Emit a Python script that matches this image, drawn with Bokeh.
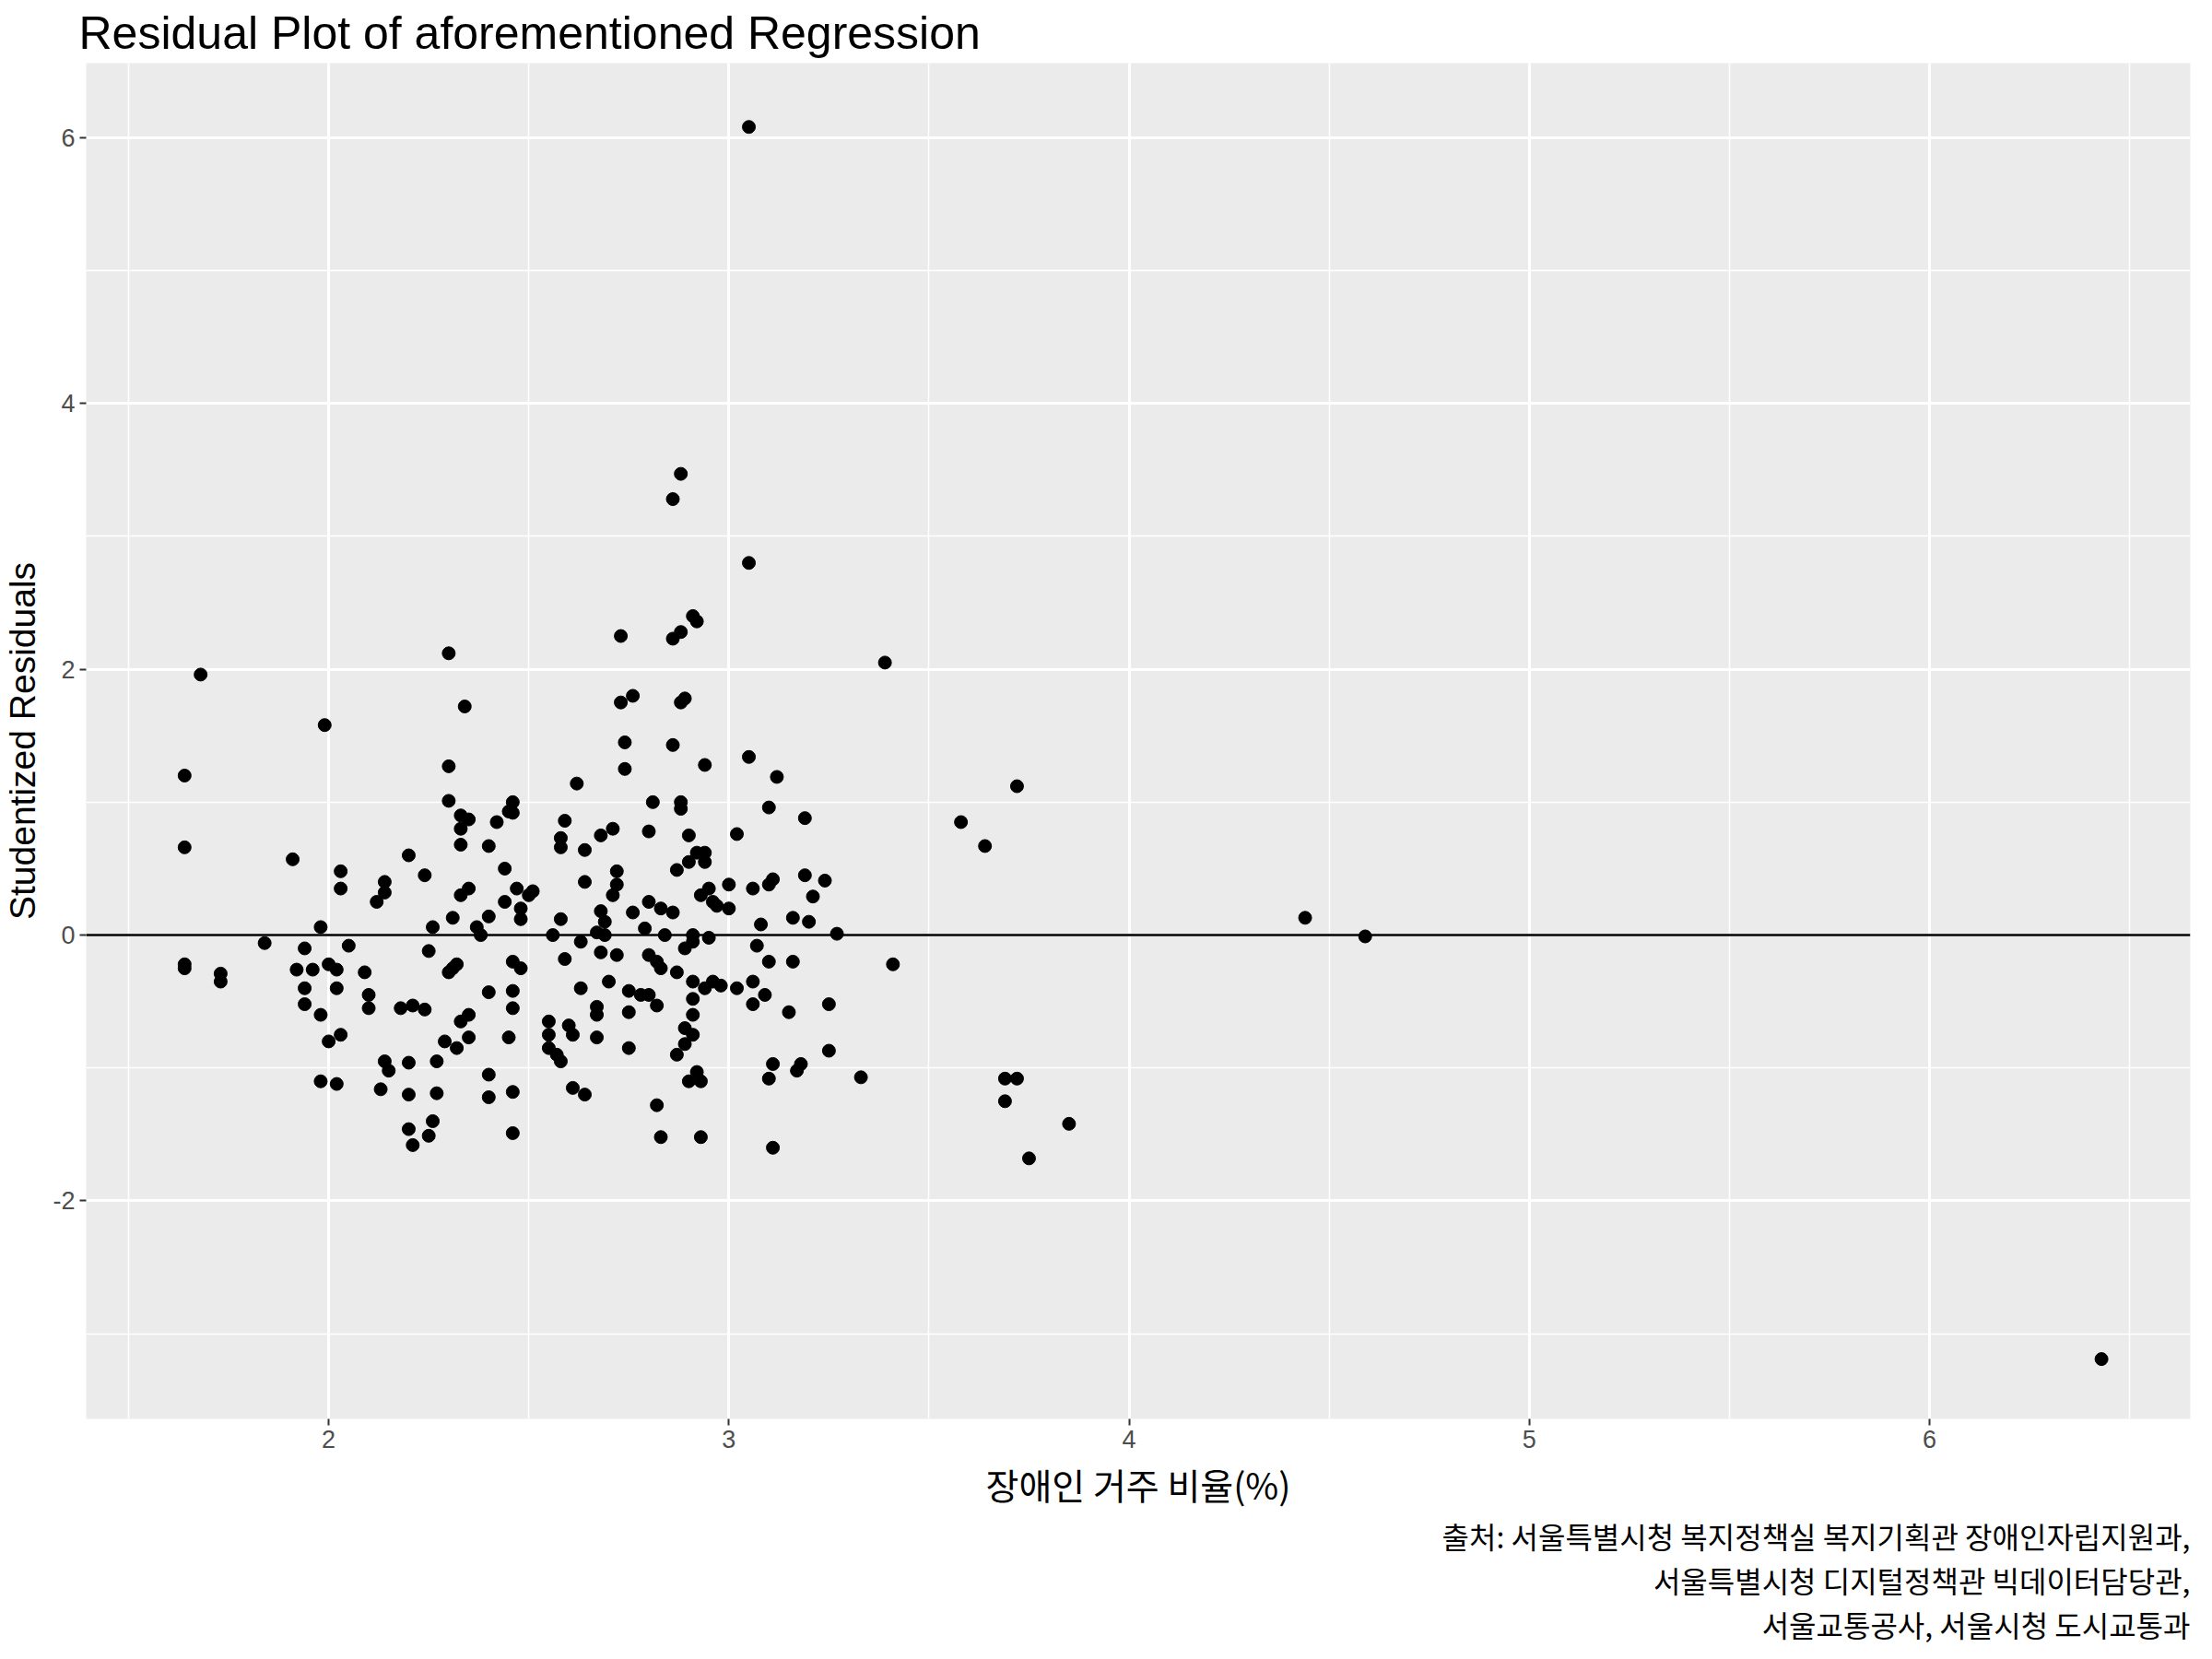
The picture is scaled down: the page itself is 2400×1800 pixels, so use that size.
from bokeh.plotting import figure
from bokeh.models import Span, Title, SingleIntervalTicker, Range1d, CustomJSTickFormatter
from bokeh.embed import file_html
from bokeh.resources import INLINE

x_ratio = [1.64, 1.64, 1.64, 1.64, 1.68, 1.73, 1.73, 1.84, 1.91, 1.92, 1.94, 1.94, 1.94, 1.96, 1.98, 1.98, 1.98, 1.99,
           2.00, 2.00, 2.02, 2.02, 2.02, 2.03, 2.03, 2.03, 2.05, 2.09, 2.10, 2.10, 2.12, 2.13, 2.14, 2.14, 2.14, 2.15,
           2.18, 2.20, 2.20, 2.20, 2.20, 2.21, 2.21, 2.24, 2.24, 2.25, 2.25, 2.26, 2.26, 2.27, 2.27, 2.29, 2.30, 2.30,
           2.30, 2.30, 2.31, 2.31, 2.32, 2.32, 2.33, 2.33, 2.33, 2.33, 2.33, 2.34, 2.35, 2.35, 2.35, 2.35, 2.37, 2.38,
           2.40, 2.40, 2.40, 2.40, 2.40, 2.42, 2.44, 2.44, 2.45, 2.45, 2.46, 2.46, 2.46, 2.46, 2.46, 2.46, 2.46, 2.47,
           2.48, 2.48, 2.48, 2.50, 2.51, 2.55, 2.55, 2.55, 2.56, 2.57, 2.58, 2.58, 2.58, 2.58, 2.59, 2.59, 2.60, 2.61,
           2.61, 2.62, 2.63, 2.63, 2.64, 2.64, 2.64, 2.67, 2.67, 2.67, 2.67, 2.68, 2.68, 2.68, 2.69, 2.69, 2.70, 2.71,
           2.71, 2.72, 2.72, 2.72, 2.73, 2.73, 2.74, 2.74, 2.75, 2.75, 2.75, 2.76, 2.76, 2.78, 2.79, 2.80, 2.80, 2.80,
           2.80, 2.81, 2.82, 2.82, 2.82, 2.83, 2.83, 2.83, 2.84, 2.86, 2.86, 2.86, 2.86, 2.87, 2.87, 2.87, 2.88, 2.88,
           2.88, 2.88, 2.88, 2.89, 2.89, 2.89, 2.89, 2.90, 2.90, 2.90, 2.91, 2.91, 2.91, 2.91, 2.91, 2.91, 2.91, 2.92,
           2.92, 2.92, 2.93, 2.93, 2.93, 2.94, 2.94, 2.94, 2.94, 2.95, 2.95, 2.96, 2.96, 2.97, 2.98, 3.00, 3.00, 3.02,
           3.02, 3.05, 3.05, 3.06, 3.06, 3.06, 3.05, 3.07, 3.08, 3.09, 3.10, 3.10, 3.10, 3.10, 3.11, 3.11, 3.12, 3.11,
           3.15, 3.16, 3.16, 3.17, 3.18, 3.19, 3.19, 3.20, 3.21, 3.24, 3.25, 3.25, 3.27, 3.33, 3.39, 3.41, 3.58, 3.64,
           3.69, 3.69, 3.72, 3.72, 3.75, 3.85, 4.44, 4.59, 6.43]
residual = [1.20, 0.66, -0.22, -0.25, 1.96, -0.29, -0.35, -0.06, 0.57, -0.26, -0.10, -0.40, -0.52, -0.26, 0.06, -0.60,
            -1.10, 1.58, -0.22, -0.80, -0.26, -0.40, -1.12, 0.48, 0.35, -0.75, -0.08, -0.28, -0.45, -0.55, 0.25, -1.16,
            0.32, 0.40, -0.95, -1.02, -0.55, 0.60, -0.96, -1.20, -1.46, -1.58, -0.53, -0.56, 0.45, -0.12, -1.51, 0.06,
            -1.40, -0.95, -1.19, -0.80, 2.12, 1.27, 1.01, -0.28, 0.13, -0.25, -0.85, -0.22, 0.68, 0.90, 0.80, 0.30,
            -0.65, 1.72, 0.87, 0.35, -0.60, -0.77, 0.06, 0.00, 0.67, 0.14, -0.43, -1.05, -1.22, 0.85, 0.50, 0.25, 0.93,
            -0.77, 1.00, 0.92, -0.20, -0.42, -0.55, -1.18, -1.49, 0.35, 0.20, 0.12, -0.25, 0.30, 0.33, -0.65, -0.75,
            -0.85, 0.00, -0.90, 0.66, 0.73, 0.12, -0.95, 0.86, -0.18, -0.68, -1.15, -0.75, 1.14, -0.05, -0.40, 0.64,
            0.40, -1.20, 0.02, -0.54, -0.60, -0.77, 0.75, 0.18, -0.13, 0.10, 0.00, -0.35, 0.80, 0.30, 0.48, 0.38, -0.15,
            2.25, 1.75, 1.45, 1.25, -0.42, -0.58, -0.85, 1.80, 0.17, -0.45, 0.05, 0.78, 0.25, -0.15, -0.45, 1.00, -1.28,
            -0.20, -0.53, -1.52, 0.20, -0.25, 0.00, 3.28, 2.23, 1.43, 0.17, 0.49, -0.28, -0.90, 1.00, 0.95, 3.47, 2.28,
            1.75, 1.78, -0.10, -0.70, -0.82, 0.55, 0.75, -1.10, 2.40, 0.00, -0.05, -0.35, -0.48, -0.60, -0.75, 0.62,
            2.36, -1.03, -1.52, -1.10, 0.30, 1.28, 0.62, 0.55, -0.40, 0.35, -0.02, 0.25, -0.35, 0.22, -0.38, 0.38, 0.20,
            0.76, -0.40, 2.80, 1.34, 0.35, -0.35, -0.52, 6.08, -0.08, 0.08, -0.45, 0.96, 0.38, -1.08, -0.20, 0.42, -0.97,
            1.19, -1.60, -0.58, -0.20, 0.13, -1.02, -0.97, 0.45, 0.88, 0.10, 0.29, 0.41, -0.52, -0.87, 0.01, -1.07, 2.05,
            -0.22, 0.85, 0.67, -1.08, -1.25, -1.08, 1.12, -1.68, -1.42, 0.13, -0.01, -3.19]

title = "Residual Plot of aforementioned Regression"
x_label = "장애인 거주 비율(%)"
y_label = "Studentized Residuals"
caption = ["출처: 서울특별시청 복지정책실 복지기획관 장애인자립지원과,",
           "서울특별시청 디지털정책관 빅데이터담당관,",
           "서울교통공사, 서울시청 도시교통과"]

KR = "Noto Sans CJK KR"
SANS = "Liberation Sans"

p = figure(width=2384, height=1784, output_backend="svg", toolbar_location=None,
           x_range=Range1d(1.394, 6.652), y_range=Range1d(-3.64, 6.56),
           min_border_left=10, min_border_right=8, min_border_top=10)
p.title.text = title
p.title.text_font = SANS
p.title.text_font_size = "50px"
p.title.text_font_style = "normal"
p.title.text_color = "black"
p.title.offset = -8
p.background_fill_color = "#EBEBEB"
p.border_fill_color = "white"
p.outline_line_color = None

p.xaxis.ticker = SingleIntervalTicker(interval=1, num_minor_ticks=2)
p.yaxis.ticker = SingleIntervalTicker(interval=2, num_minor_ticks=2)
p.yaxis.formatter = CustomJSTickFormatter(code="return tick.toString();")
for ax in (p.xaxis, p.yaxis):
    ax.axis_line_color = None
    ax.major_tick_line_color = "#333333"
    ax.major_tick_line_width = 2
    ax.major_tick_in = 0
    ax.major_tick_out = 7
    ax.minor_tick_line_color = None
    ax.major_label_text_font = SANS
    ax.major_label_text_font_size = "27px"
    ax.major_label_text_color = "#4D4D4D"
    ax.axis_label_text_font_style = "normal"
    ax.axis_label_text_font_size = "39px"
    ax.axis_label_text_color = "black"
    ax.axis_label_standoff = 8
p.xaxis.axis_label = x_label
p.xaxis.axis_label_text_font = KR
p.yaxis.axis_label = y_label
p.yaxis.axis_label_text_font = SANS
p.yaxis.major_label_orientation = "horizontal"

p.grid.grid_line_color = "white"
p.grid.grid_line_width = 3
p.grid.minor_grid_line_color = "white"
p.grid.minor_grid_line_width = 1.5

p.scatter(x_ratio, residual, size=14, color="black")
p.add_layout(Span(location=0, dimension="width", line_color="black", line_width=2.5))

for line in caption:
    p.add_layout(Title(text=line, align="right", text_font=KR, text_font_size="32px",
                       text_font_style="normal", text_color="black", standoff=0, offset=0), "below")

open("out.html", "w").write(file_html(p, INLINE))
